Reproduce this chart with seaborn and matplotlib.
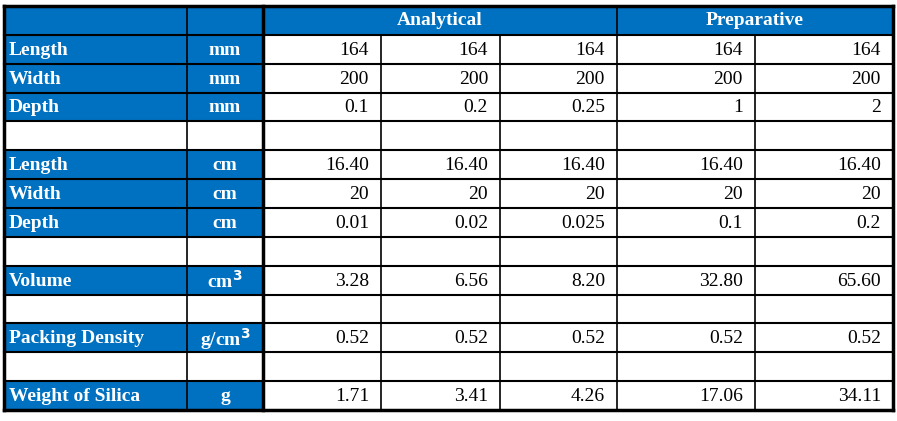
import matplotlib
matplotlib.use("Agg")
import matplotlib.pyplot as plt
import seaborn as sns
from matplotlib.patches import Rectangle

sns.set_theme(style="white")

row_labels = ["Length", "Width", "Depth", "", "Length", "Width", "Depth", "",
              "Volume", "", "Packing Density", "", "Weight of Silica"]
units = ["mm", "mm", "mm", "", "cm", "cm", "cm", "",
         "cm$^\\mathbf{3}$", "", "g/cm$^\\mathbf{3}$", "", "g"]
col1 = ["164", "200", "0.1", "", "16.40", "20", "0.01", "", "3.28", "", "0.52", "", "1.71"]
col2 = ["164", "200", "0.2", "", "16.40", "20", "0.02", "", "6.56", "", "0.52", "", "3.41"]
col3 = ["164", "200", "0.25", "", "16.40", "20", "0.025", "", "8.20", "", "0.52", "", "4.26"]
col4 = ["164", "200", "1", "", "16.40", "20", "0.1", "", "32.80", "", "0.52", "", "17.06"]
col5 = ["164", "200", "2", "", "16.40", "20", "0.2", "", "65.60", "", "0.52", "", "34.11"]
groups = ["Analytical", "Preparative"]

BLUE = "#0070C0"
xs = [4, 187, 263, 381, 500, 617, 755, 893]
top, bottom = 6, 410
nrows = 14
rh = (bottom - top) / nrows

fig = plt.figure(figsize=(8.97, 4.21), dpi=100)
ax = fig.add_axes([0, 0, 1, 1])
ax.set_xlim(0, 897)
ax.set_ylim(421, 0)
ax.axis("off")

serif = "Liberation Serif"
data_cols = [col1, col2, col3, col4, col5]

# header
ax.add_patch(Rectangle((xs[0], top), xs[-1] - xs[0], rh, color=BLUE, lw=0))
ax.text((xs[2] + xs[5]) / 2, top + rh / 2, groups[0], color="white", ha="center", va="center",
        fontsize=14, fontweight="bold", family=serif)
ax.text((xs[5] + xs[7]) / 2, top + rh / 2, groups[1], color="white", ha="center", va="center",
        fontsize=14, fontweight="bold", family=serif)

for i in range(len(row_labels)):
    y0 = top + rh * (i + 1)
    yc = y0 + rh / 2 + 1
    if row_labels[i]:
        ax.add_patch(Rectangle((xs[0], y0), xs[2] - xs[0], rh, color=BLUE, lw=0))
        ax.text(xs[0] + 5, yc, row_labels[i], color="white", ha="left", va="center",
                fontsize=14, fontweight="bold", family=serif)
        ax.text((xs[1] + xs[2]) / 2, yc, units[i], color="white", ha="center", va="center",
                fontsize=14, fontweight="bold", family=serif)
    for j, col in enumerate(data_cols):
        ax.text(xs[j + 3] - 12, yc, col[i], color="black", ha="right", va="center",
                fontsize=14, family=serif)

# grid lines
for i in range(nrows + 1):
    y = top + rh * i
    lw = 2.5 if i in (0, nrows) else 1.5
    ax.plot([xs[0], xs[-1]], [y, y], color="black", lw=lw, solid_capstyle="projecting")
for k, x in enumerate(xs):
    lw = 2.5 if k in (0, 2, len(xs) - 1) else 1.2
    y0 = top if k in (0, 1, 2, 5, len(xs) - 1) else top + rh
    ax.plot([x, x], [y0, bottom], color="black", lw=lw, solid_capstyle="projecting")

fig.savefig("out.png", dpi=100, facecolor="white")
